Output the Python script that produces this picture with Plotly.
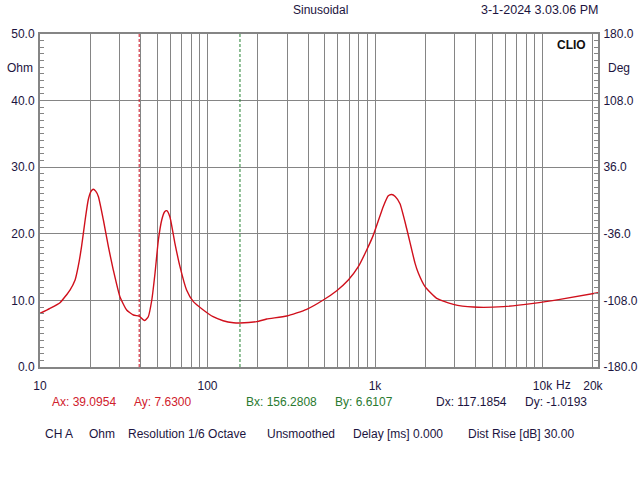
import plotly.graph_objects as go
import math

# ---- data ----
freq_hz = [10, 11.47, 13.16, 15.1, 16.2, 16.9, 17.7, 18.6, 19.4, 20.2, 20.8, 21.5, 22.3, 23.9,
           25.6, 27.4, 30.0, 32.9, 36.1, 39.1, 41.4, 42.4, 44.3, 46.5, 48.6, 50.9, 53.3, 55.5,
           57.1, 59.6, 63.9, 68.5, 75.0, 82.3, 94.4, 108, 124, 143, 156, 196.7, 225.6, 297,
           391, 491, 591, 693, 795, 892, 977, 1121, 1200, 1258, 1320, 1410, 1545, 1733, 1814,
           1989, 2336, 2935, 3864, 5834, 8812, 12720, 21450]
impedance_ohm = [8.06, 8.81, 9.66, 11.56, 13.06, 15.06, 18.06, 22.07, 25.08, 26.4, 26.68, 26.4,
                 25.6, 22.07, 18.06, 14.56, 10.56, 8.56, 7.81, 7.63, 7.06, 7.0, 7.55, 10.06,
                 14.07, 19.07, 22.07, 23.3, 23.47, 22.57, 18.57, 15.06, 11.56, 9.81, 8.56, 7.55,
                 6.95, 6.65, 6.61, 6.81, 7.2, 7.65, 8.66, 10.06, 11.46, 13.06, 15.06, 17.57,
                 19.8, 24.1, 25.7, 25.9, 25.6, 24.5, 20.8, 15.6, 14.1, 12.06, 10.3, 9.41, 9.0,
                 9.06, 9.56, 10.16, 11.16]

cursor_a_x = 39.0954
cursor_b_x = 156.2808

x_grid = ([10 * i for i in range(2, 10)] + [100 * i for i in range(1, 10)] +
          [1000 * i for i in range(1, 10)] + [10000, 20000])
x_labels = {10: "10", 100: "100", 1000: "1k", 10000: "10k", 20000: "20k"}
x_tickvals = [10] + x_grid
x_ticktext = [x_labels.get(v, "") for v in x_tickvals]

y_left_ticks = [0, 10, 20, 30, 40, 50]
y_right_ticks = [-180, -108, -36, 36, 108, 180]

status_items = ["CH A", "Ohm", "Resolution 1/6 Octave", "Unsmoothed",
                "Delay [ms] 0.000", "Dist Rise [dB] 30.00"]

# ---- geometry ----
W, H = 640, 480
L, R, T, B = 40, 598, 34, 367
pw, ph = R - L, B - T

def px(xp):
    return (xp - L) / pw

def py(yp):
    return (B - yp) / ph

GRID = "#858585"
TXT = "#1c1440"
FONT = "Liberation Sans, Arial, sans-serif"

fig = go.Figure()
fig.add_trace(go.Scatter(x=freq_hz, y=impedance_ohm, mode="lines",
                         line=dict(color="#d0101c", width=1.4, shape="spline", smoothing=0.5),
                         hoverinfo="skip", showlegend=False))
fig.add_trace(go.Scatter(x=[cursor_a_x, cursor_a_x], y=[0, 50], mode="lines",
                         line=dict(color="#c81020", width=1, dash="3px,2px"),
                         showlegend=False, hoverinfo="skip"))
fig.add_trace(go.Scatter(x=[cursor_b_x, cursor_b_x], y=[0, 50], mode="lines",
                         line=dict(color="#208030", width=1, dash="3px,2px"),
                         showlegend=False, hoverinfo="skip"))
fig.add_trace(go.Scatter(x=[], y=[], yaxis="y2", showlegend=False))

x_max = 10 ** (1 + pw / 167.5)

fig.update_layout(
    width=W, height=H,
    margin=dict(l=L, r=W - R, t=T, b=H - B, pad=0, autoexpand=False),
    paper_bgcolor="white", plot_bgcolor="white",
    font=dict(family=FONT, size=12, color=TXT),
    showlegend=False,
    xaxis=dict(type="log", range=[1, math.log10(x_max)], automargin=False,
               tickmode="array", tickvals=x_tickvals, ticktext=x_ticktext,
               showgrid=True, gridcolor=GRID, gridwidth=1,
               showline=True, linecolor=GRID, linewidth=2, mirror=True,
               ticks="", zeroline=False, ticklabelstandoff=7,
               tickfont=dict(family=FONT, size=12, color=TXT)),
    yaxis=dict(range=[0, 50], tickmode="array", tickvals=y_left_ticks, automargin=False,
               ticktext=[f"{v:.1f}" for v in y_left_ticks],
               showgrid=True, gridcolor=GRID, gridwidth=1,
               showline=True, linecolor=GRID, linewidth=2,
               ticks="inside", ticklen=6, tickcolor=GRID, zeroline=False,
               minor=dict(dtick=1, ticks="inside", ticklen=4, tickcolor=GRID, showgrid=False),
               tickfont=dict(family=FONT, size=12, color=TXT), ticklabelstandoff=1),
    yaxis2=dict(range=[-180, 180], overlaying="y", side="right", automargin=False,
                tickmode="array", tickvals=y_right_ticks,
                ticktext=[f"{v:.1f}" for v in y_right_ticks],
                showgrid=False, showline=True, linecolor=GRID, linewidth=2,
                ticks="inside", ticklen=6, tickcolor=GRID, zeroline=False,
                minor=dict(dtick=7.2, ticks="inside", ticklen=4, tickcolor=GRID),
                tickfont=dict(family=FONT, size=12, color=TXT), ticklabelstandoff=1),
)

def ann(text, xp, yp, color=TXT, anchor="left", size=12, bold=False):
    fig.add_annotation(text=f"<b>{text}</b>" if bold else text,
                       x=px(xp), y=py(yp), xref="paper", yref="paper",
                       xanchor=anchor, yanchor="middle", showarrow=False,
                       font=dict(family=FONT, size=size, color=color))

ann("Sinusoidal", 320, 10, anchor="center")
ann("3-1-2024 3.03.06 PM", 600, 10, anchor="right", size=12.5)
ann("CLIO", 588, 45, color="#101010", anchor="right", bold=True)
ann("Ohm", 20, 68, anchor="center")
ann("Deg", 606, 68, anchor="left")
ann("Hz", 563, 385, anchor="center")
ann("Ax: 39.0954", 50, 402, color="#d0202c")
ann("Ay: 7.6300", 132, 402, color="#d0202c")
ann("Bx: 156.2808", 244, 402, color="#2a7a30")
ann("By: 6.6107", 333, 402, color="#2a7a30")
ann("Dx: 117.1854", 434, 402)
ann("Dy: -1.0193", 523, 402)

status_x = [43, 87, 126, 265, 351, 466]
for txt, xs in zip(status_items, status_x):
    ann(txt, xs, 434)

fig.write_html("out.html", config={"displayModeBar": False},
               post_script="document.body.style.margin='0px';document.body.style.overflow='hidden';")
